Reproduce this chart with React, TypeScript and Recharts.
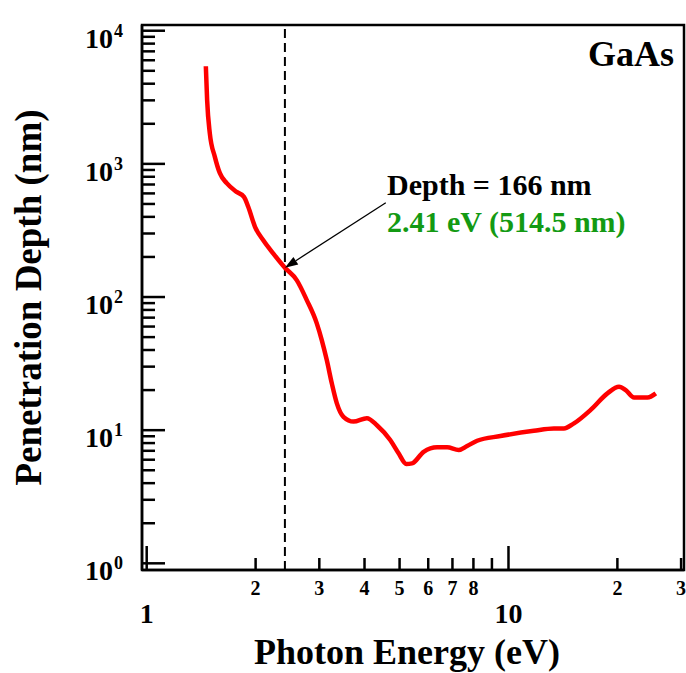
import React from 'react';
import { LineChart, Line, XAxis, YAxis, ReferenceLine, ReferenceArea, Label } from 'recharts';

// photon energy (eV) and penetration depth (nm)
const energy = [
  1.457, 1.469, 1.494, 1.543, 1.593, 1.664, 1.772, 1.857, 1.908, 1.992, 2.1, 2.239, 2.41,
  2.598, 2.77, 2.952, 3.047, 3.146, 3.248, 3.354, 3.498, 3.729, 4.061, 4.328, 4.711, 4.968,
  5.219, 5.411, 5.828, 6.347, 6.766, 7.285, 7.685, 8.192, 9.5, 11.75, 13.35, 14.23, 15.17,
  16.87, 18.77, 20.21, 21.09, 22.24, 24.23, 25.54,
];
const depth = [
  5410, 3008, 1702, 1129, 851, 716, 616, 565, 476, 337, 267, 212, 166,
  134, 94.8, 63.4, 47.5, 33.6, 22.5, 15.9, 12.6, 11.6, 12.3, 10.9, 8.43, 6.7,
  5.57, 5.63, 6.88, 7.43, 7.43, 7.09, 7.6, 8.33, 9.03, 9.89, 10.3, 10.3, 11.25,
  14.2, 18.9, 21.2, 20.0, 17.6, 17.6, 18.9,
];

const xTicks = [1, 2, 3, 4, 5, 6, 7, 8, 9, 10, 20, 30];
const xTickLabels: Record<number, string> = {
  1: '1', 2: '2', 3: '3', 4: '4', 5: '5', 6: '6', 7: '7', 8: '8', 10: '10', 20: '2', 30: '3',
};
const xMajor = [1, 10];

const yTicks = [
  1, 2, 3, 4, 5, 6, 7, 8, 9,
  10, 20, 30, 40, 50, 60, 70, 80, 90,
  100, 200, 300, 400, 500, 600, 700, 800, 900,
  1000, 2000, 3000, 4000, 5000, 6000, 7000, 8000, 9000,
  10000,
];
const yMajor = [1, 10, 100, 1000, 10000];
const yExponents = ['0', '1', '2', '3', '4'];

// marked wavelength: 514.5 nm line
const markEnergy = 2.41;
const markDepth = 166;
const arrowFrom = { x: 4.58, y: 511 };

const X_DOMAIN: [number, number] = [0.9705, 30.56];
const Y_DOMAIN: [number, number] = [0.891, 11040];

const FONT = "'Liberation Serif', 'Times New Roman', serif";

const data = energy.map((e, i) => ({ energy: e, depth: depth[i] }));

const XTick = (props: any) => {
  const { x, y, payload } = props;
  const v = payload.value;
  const major = xMajor.includes(v);
  const label = xTickLabels[v];
  return (
    <g>
      <line x1={x} x2={x} y1={y} y2={y - (major ? 24 : 12)} stroke="#000" strokeWidth={2.5} />
      {label && (
        <text
          x={x}
          y={y + (major ? 53 : 25)}
          textAnchor="middle"
          fontFamily={FONT}
          fontWeight="bold"
          fontSize={major ? 28 : 20}
          fill="#000"
        >
          {label}
        </text>
      )}
    </g>
  );
};

const YTick = (props: any) => {
  const { x, y, payload } = props;
  const idx = yMajor.indexOf(payload.value);
  const major = idx >= 0;
  return (
    <g>
      <line x1={x} x2={x + (major ? 23 : 13)} y1={y} y2={y} stroke="#000" strokeWidth={2.5} />
      {major && (
        <text x={x - 57} y={y + 17} fontFamily={FONT} fontWeight="bold" fontSize={28} fill="#000">
          10
          <tspan dx={1} dy={-11} fontSize={18}>{yExponents[idx]}</tspan>
        </text>
      )}
    </g>
  );
};

const arrowShape = (props: any) => {
  const { x1, y1, x2, y2 } = props;
  const ang = Math.atan2(y2 - y1, x2 - x1);
  const len = 13;
  const half = 4.5;
  const bx = x2 - len * Math.cos(ang);
  const by = y2 - len * Math.sin(ang);
  const px = -Math.sin(ang) * half;
  const py = Math.cos(ang) * half;
  return (
    <g>
      <line x1={x1} y1={y1} x2={bx} y2={by} stroke="#000" strokeWidth={1.3} />
      <polygon points={`${x2},${y2} ${bx + px},${by + py} ${bx - px},${by - py}`} fill="#000" />
    </g>
  );
};

const App = () => {
  return (
    <div style={{ position: 'absolute', left: 0, top: 0, width: 686, height: 673, background: '#fff' }}>
      <LineChart width={686} height={673} data={data} margin={{ top: 25, right: 2, bottom: 0, left: 0 }}>
        <XAxis
          dataKey="energy"
          type="number"
          scale="log"
          domain={X_DOMAIN}
          allowDataOverflow
          ticks={xTicks}
          interval={0}
          height={103}
          tickSize={0}
          tickMargin={0}
          tickLine={false}
          axisLine={{ stroke: '#000', strokeWidth: 2.5 }}
          tick={XTick}
        >
          <Label
            content={({ viewBox }: any) => (
              <text
                x={viewBox.x + viewBox.width / 2 - 6}
                y={viewBox.y + 94}
                textAnchor="middle"
                fontFamily={FONT}
                fontWeight="bold"
                fontSize={36}
                fill="#000"
              >
                Photon Energy (eV)
              </text>
            )}
          />
        </XAxis>
        <YAxis
          type="number"
          scale="log"
          domain={Y_DOMAIN}
          allowDataOverflow
          ticks={yTicks}
          interval={0}
          width={142}
          tickSize={0}
          tickMargin={0}
          tickLine={false}
          axisLine={{ stroke: '#000', strokeWidth: 2.5 }}
          tick={YTick}
        >
          <Label
            content={({ viewBox }: any) => {
              const cx = viewBox.x + 41;
              const cy = viewBox.y + viewBox.height / 2;
              return (
                <text
                  x={cx}
                  y={cy}
                  transform={`rotate(-90, ${cx}, ${cy})`}
                  textAnchor="middle"
                  fontFamily={FONT}
                  fontWeight="bold"
                  fontSize={37}
                  fill="#000"
                >
                  Penetration Depth (nm)
                </text>
              );
            }}
          />
        </YAxis>
        <ReferenceArea
          x1={X_DOMAIN[0]}
          x2={X_DOMAIN[1]}
          y1={Y_DOMAIN[0]}
          y2={Y_DOMAIN[1]}
          fill="none"
          fillOpacity={0}
          stroke="#000"
          strokeWidth={2.5}
        />
        <ReferenceLine x={markEnergy} stroke="#000" strokeWidth={2} strokeDasharray="9 5" />
        <Line
          type="monotone"
          dataKey="depth"
          stroke="#ff0000"
          strokeWidth={4.5}
          dot={false}
          isAnimationActive={false}
        />
        <ReferenceLine
          segment={[arrowFrom, { x: markEnergy, y: markDepth }]}
          shape={arrowShape}
        />
      </LineChart>
      <svg
        width={686}
        height={673}
        style={{ position: 'absolute', left: 0, top: 0, pointerEvents: 'none' }}
      >
        <text x={674} y={66} textAnchor="end" fontFamily={FONT} fontWeight="bold" fontSize={36} fill="#000">
          GaAs
        </text>
        <text x={387} y={195} fontFamily={FONT} fontWeight="bold" fontSize={30} fill="#000">
          Depth = 166 nm
        </text>
        <text x={387} y={232} fontFamily={FONT} fontWeight="bold" fontSize={30} fill="#139a13">
          2.41 eV (514.5 nm)
        </text>
      </svg>
    </div>
  );
};

export default App;
